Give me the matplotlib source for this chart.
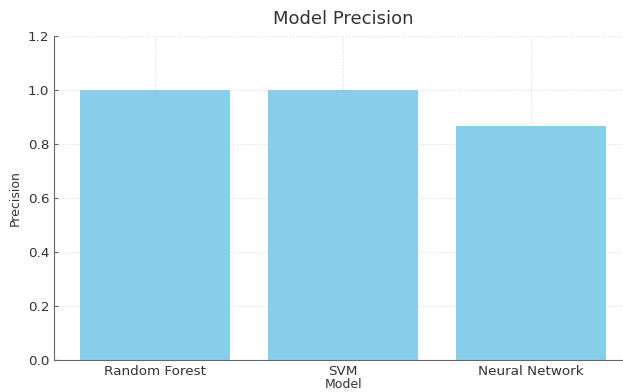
import matplotlib
matplotlib.use('Agg')
import matplotlib.pyplot as plt

models = ['Random Forest', 'SVM', 'Neural Network']
precision = [1.0, 1.0, 0.8667]

fig = plt.figure(figsize=(6.23, 3.92), dpi=100)
ax = fig.add_axes([0.0867, 0.0816, 0.928, 0.8265])

ax.bar(models, precision, color='skyblue', width=0.8, zorder=2)
ax.set_ylim(0, 1.2)
ax.set_yticks([0.0, 0.2, 0.4, 0.6, 0.8, 1.0, 1.2])

ax.set_title('Model Precision', fontsize=13, color='#333333', pad=9)
ax.set_xlabel('Model', fontsize=9, color='#333333', labelpad=0)
ax.set_ylabel('Precision', fontsize=9, color='#333333')

ax.grid(True, linestyle=':', color='#dddddd', linewidth=0.8, zorder=0)
ax.spines['top'].set_visible(False)
ax.spines['right'].set_visible(False)
for s in ['left', 'bottom']:
    ax.spines[s].set_color('#666666')
ax.tick_params(direction='in', length=3, colors='#666666', labelcolor='#333333', labelsize=9.7)

fig.savefig('out.png', dpi=100)
